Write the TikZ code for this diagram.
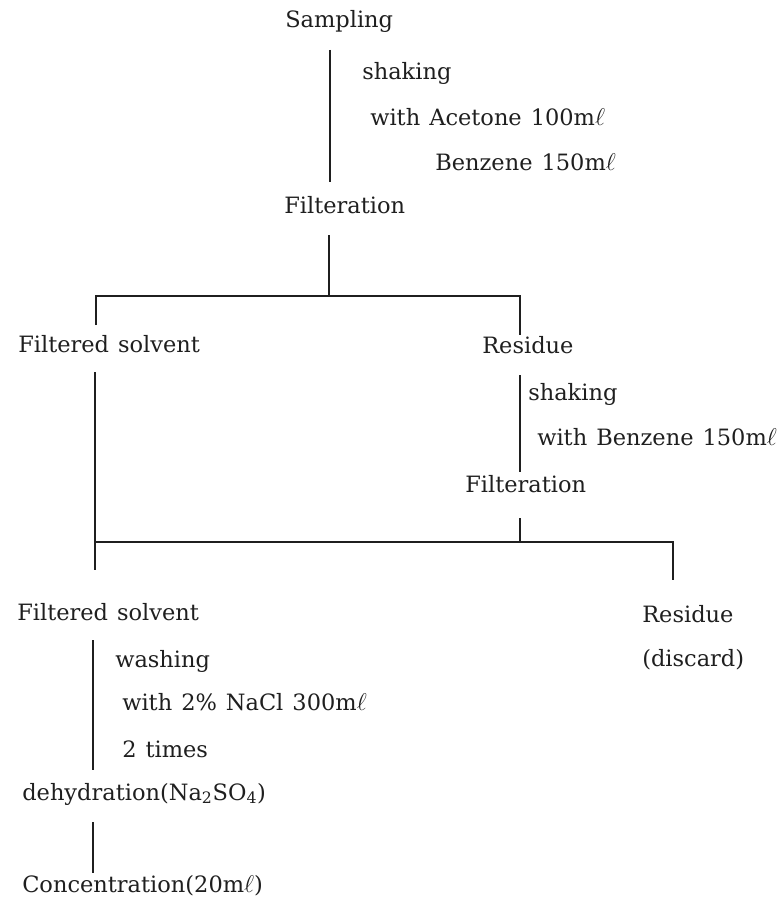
\documentclass[tikz,border=0pt]{standalone}
\usepackage{fontspec}
\setmainfont{DejaVu Serif}
\usepackage{tikz}
\definecolor{ink}{gray}{0.12}
\newcommand{\flowfont}{\fontsize{16}{19}\selectfont\spaceskip=0.4em plus 0.1em\relax}
\newcommand{\mlit}{m$\ell$}

\begin{document}
\begin{tikzpicture}[x=0.025cm, y=-0.025cm,
    txt/.style={anchor=base west, inner sep=0, text=ink, font=\flowfont},
    flow/.style={draw=ink, line width=1.2pt}]
  \useasboundingbox (0, 0) rectangle (783, 900);

  % first extraction
  \node[txt] (samp) at (285, 28) {Sampling};
  \node[txt] (shk1) at (362, 80) {shaking};
  \node[txt] (ace) at (370, 125) {with Acetone 100\mlit};
  \node[txt] (ben1) at (435, 170) {Benzene 150\mlit};
  \node[txt] (filt1) at (284, 213) {Filteration};

  \coordinate (s1a) at (330, 50);
  \coordinate (s1b) at (330, 182);
  \draw[flow] (s1a) -- (s1b);

  % first split
  \coordinate (f1) at (329, 235);
  \coordinate (j1) at (329, 296);
  \coordinate (j1l) at (96, 296);
  \coordinate (j1r) at (520, 296);
  \coordinate (fs1a) at (96, 325);
  \coordinate (res1a) at (520, 335);
  \draw[flow] (f1) -- (j1);
  \draw[flow] (fs1a) -- (j1l) -- (j1r) -- (res1a);

  \node[txt] (fs1) at (18, 352) {Filtered solvent};
  \node[txt] (res1) at (482, 353) {Residue};

  % second extraction of residue
  \node[txt] (shk2) at (528, 400) {shaking};
  \node[txt] (ben2) at (537, 445) {with Benzene 150\mlit};
  \node[txt] (filt2) at (465, 492) {Filteration};

  \coordinate (r2a) at (520, 375);
  \coordinate (r2b) at (520, 472);
  \draw[flow] (r2a) -- (r2b);

  % joining
  \coordinate (fs1b) at (95, 372);
  \coordinate (j2l) at (95, 542);
  \coordinate (f2) at (520, 518);
  \coordinate (j2) at (520, 542);
  \coordinate (j2r) at (673, 542);
  \coordinate (fs2a) at (95, 570);
  \coordinate (res2a) at (673, 580);
  \draw[flow] (fs1b) -- (j2l) -- (j2r) -- (res2a);
  \draw[flow] (f2) -- (j2);
  \draw[flow] (j2l) -- (fs2a);

  \node[txt] (fs2) at (17, 620) {Filtered solvent};
  \node[txt] (res2) at (642, 622) {Residue};
  \node[txt] (disc) at (642, 666) {(discard)};

  % washing and concentration
  \node[txt] (wash) at (115, 667) {washing};
  \node[txt] (nacl) at (122, 710) {with 2\% NaCl 300\mlit};
  \node[txt] (twice) at (122, 757) {2 times};
  \node[txt] (dehy) at (22, 800) {dehydration(Na\textsubscript{2}SO\textsubscript{4})};
  \node[txt] (conc) at (22, 892) {Concentration(20\mlit)};

  \coordinate (w1) at (93, 640);
  \coordinate (w2) at (93, 770);
  \coordinate (d1) at (93, 822);
  \coordinate (d2) at (93, 873);
  \draw[flow] (w1) -- (w2);
  \draw[flow] (d1) -- (d2);
\end{tikzpicture}
\end{document}
